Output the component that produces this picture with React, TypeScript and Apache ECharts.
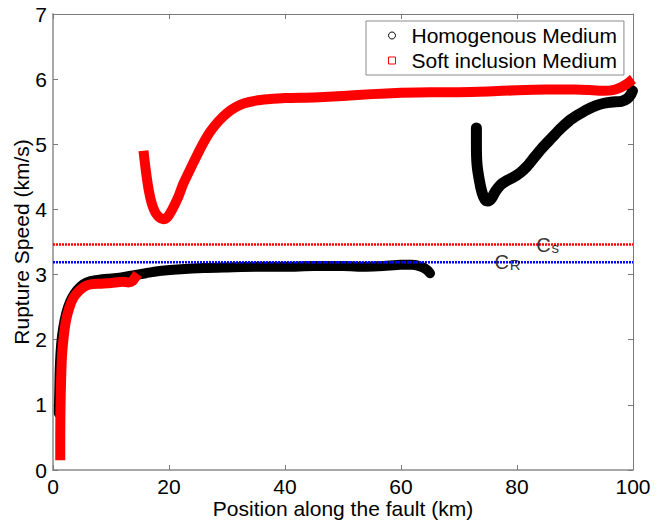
import React, { useEffect, useRef } from "react";
import * as echarts from "echarts";

// ---- data ----
const xTicks = [0, 20, 40, 60, 80, 100];
const yTicks = [0, 1, 2, 3, 4, 5, 6, 7];

const homogeneousSegA: [number, number][] = [
  [1.0, 0.87], [1.08, 1.2], [1.15, 1.5], [1.3, 1.8], [1.55, 2.05], [2.0, 2.3], [2.6, 2.5],
  [3.25, 2.64], [4.15, 2.76], [5.2, 2.85], [6.5, 2.9], [8, 2.92], [10, 2.94], [12, 2.96],
  [14, 2.99], [16, 3.02], [18, 3.05], [22, 3.08], [26, 3.1], [30, 3.11], [35, 3.12], [40, 3.12],
  [45, 3.13], [50, 3.13], [54, 3.12], [57, 3.13], [60, 3.15], [62, 3.15], [63.5, 3.12],
  [64.5, 3.07], [65, 3.02],
];
const homogeneousSegB: [number, number][] = [
  [73.0, 5.25], [73.0, 5.0], [73.1, 4.7], [73.5, 4.45], [74.0, 4.25], [74.5, 4.15],
  [75, 4.13], [75.6, 4.17], [76.3, 4.28], [77.2, 4.38], [78.2, 4.44], [79.3, 4.49],
  [80.5, 4.56], [81.7, 4.66], [83, 4.8], [84.5, 4.96], [86, 5.1], [87.5, 5.24],
  [89, 5.36], [90.5, 5.45], [92, 5.53], [93.5, 5.59], [95, 5.63], [96.5, 5.65],
  [98, 5.66], [99, 5.7], [99.6, 5.76], [99.9, 5.82],
];
const softSegA: [number, number][] = [
  [1.25, 0.15], [1.25, 0.5], [1.3, 1.0], [1.4, 1.4], [1.55, 1.75], [1.85, 2.05], [2.25, 2.3],
  [2.85, 2.5], [3.5, 2.64], [4.5, 2.75], [5.5, 2.82], [6.5, 2.85], [8, 2.86], [10, 2.87],
  [12, 2.89], [13, 2.88], [13.7, 2.9], [14.2, 2.96], [14.6, 3.01],
];
const softSegB: [number, number][] = [
  [15.6, 4.9], [16, 4.6], [16.5, 4.3], [17, 4.1], [17.6, 3.96], [18.3, 3.88], [19, 3.85],
  [19.7, 3.88], [20.5, 3.99], [21.5, 4.17], [22.5, 4.4], [24, 4.68], [25.5, 4.95],
  [27, 5.18], [28.5, 5.35], [30, 5.48], [31.5, 5.57], [33, 5.63], [35, 5.67], [37, 5.69],
  [40, 5.71], [45, 5.72], [50, 5.74], [55, 5.77], [60, 5.79], [65, 5.8], [70, 5.8],
  [75, 5.81], [80, 5.83], [85, 5.84], [90, 5.84], [93, 5.83], [95, 5.82], [96.5, 5.83],
  [97.8, 5.87], [99, 5.93], [99.7, 5.98], [100, 6.0],
];
const shearSpeed = 3.46;
const rayleighSpeed = 3.19;
const csLabelX = 83.3;
const crLabelX = 76.1;

const FONT = "'Liberation Sans', Arial, Helvetica, sans-serif";

export default function App() {
  const ref = useRef<HTMLDivElement>(null);
  useEffect(() => {
    document.body.style.margin = "0";
    if (!ref.current) return;
    const chart = echarts.init(ref.current, null, { renderer: "svg" });
    const axisGray = "#7a7a7a";
    const lineSeries = (name: string, data: [number, number][], color: string, width: number, cap: string) => ({
      type: "line",
      name,
      data,
      showSymbol: false,
      symbol: "none",
      smooth: 0.25,
      silent: true,
      lineStyle: { color, width, cap, join: "round" },
      itemStyle: { color },
      emphasis: { disabled: true },
    });
    chart.setOption({
      animation: false,
      backgroundColor: "#ffffff",
      textStyle: { fontFamily: FONT },
      grid: { left: 53, right: 27, top: 14, bottom: 51, containLabel: false, outerBoundsMode: "none" },
      legend: {
        left: 366,
        top: 21,
        orient: "vertical",
        backgroundColor: "#ffffff",
        borderColor: "#8a8a8a",
        borderWidth: 1,
        borderRadius: 0,
        padding: [4, 7, 4, 22],
        itemGap: 4,
        itemWidth: 7,
        itemHeight: 7,
        textStyle: { fontFamily: FONT, fontSize: 21, color: "#000", lineHeight: 21, padding: [0, 0, 0, 11] },
        selectedMode: false,
        data: [
          { name: "Homogenous Medium", icon: "circle", itemStyle: { color: "#ffffff", borderColor: "#000", borderWidth: 1 } },
          { name: "Soft inclusion Medium", icon: "rect", itemStyle: { color: "#ffffff", borderColor: "#ff0000", borderWidth: 1 } },
        ],
      },
      xAxis: [
        {
          type: "value",
          min: xTicks[0],
          max: xTicks[xTicks.length - 1],
          interval: 20,
          name: "Position along the fault (km)",
          nameLocation: "middle",
          nameGap: 28,
          nameMoveOverlap: false,
          nameTextStyle: { fontFamily: FONT, fontSize: 21, color: "#000" },
          axisLine: { show: true, onZero: false, lineStyle: { color: "#8c8c8c", width: 1.5 } },
          axisTick: { show: true, inside: true, length: 5, lineStyle: { color: axisGray } },
          axisLabel: { fontFamily: FONT, fontSize: 21, color: "#000", margin: 6 },
          splitLine: { show: false },
        },
        {
          type: "value",
          position: "top",
          min: xTicks[0],
          max: xTicks[xTicks.length - 1],
          interval: 20,
          axisLine: { show: true, onZero: false, lineStyle: { color: axisGray, width: 1 } },
          axisTick: { show: true, inside: true, length: 5, lineStyle: { color: axisGray } },
          axisLabel: { show: false },
          splitLine: { show: false },
        },
      ],
      yAxis: [
        {
          type: "value",
          min: yTicks[0],
          max: yTicks[yTicks.length - 1],
          interval: 1,
          name: "Rupture Speed (km/s)",
          nameLocation: "middle",
          nameGap: 21,
          nameMoveOverlap: false,
          nameTextStyle: { fontFamily: FONT, fontSize: 21, color: "#000" },
          axisLine: { show: true, onZero: false, lineStyle: { color: "#a8a8a8", width: 2 } },
          axisTick: { show: true, inside: true, length: 5, lineStyle: { color: axisGray } },
          axisLabel: { fontFamily: FONT, fontSize: 21, color: "#000", margin: 6 },
          splitLine: { show: false },
        },
        {
          type: "value",
          position: "right",
          min: yTicks[0],
          max: yTicks[yTicks.length - 1],
          interval: 1,
          axisLine: { show: true, onZero: false, lineStyle: { color: axisGray, width: 1 } },
          axisTick: { show: true, inside: true, length: 5, lineStyle: { color: axisGray } },
          axisLabel: { show: false },
          splitLine: { show: false },
        },
      ],
      series: [
        lineSeries("Homogenous Medium", homogeneousSegA, "#000000", 10, "round"),
        lineSeries("Homogenous Medium", homogeneousSegB, "#000000", 11, "round"),
        lineSeries("Soft inclusion Medium", softSegA, "#ff0000", 10, "butt"),
        lineSeries("Soft inclusion Medium", softSegB, "#ff0000", 10, "butt"),
        {
          type: "line",
          name: "Cs line",
          data: [[xTicks[0], shearSpeed], [xTicks[xTicks.length - 1], shearSpeed]],
          symbol: "none",
          silent: true,
          lineStyle: { color: "#ff0000", width: 2.5, type: [2, 1] },
        },
        {
          type: "line",
          name: "CR line",
          data: [[xTicks[0], rayleighSpeed], [xTicks[xTicks.length - 1], rayleighSpeed]],
          symbol: "none",
          silent: true,
          lineStyle: { color: "#0000ff", width: 2.5, type: [2, 1] },
        },
        {
          type: "scatter",
          name: "labels",
          symbolSize: 0,
          silent: true,
          z: 10,
          data: [
            { value: [csLabelX, shearSpeed], sub: "s" },
            { value: [crLabelX, rayleighSpeed], sub: "R" },
          ],
          label: {
            show: true,
            position: "right",
            distance: 0,
            formatter: (p: any) => `{c|C}{s|${p.data.sub}}`,
            rich: {
              c: { fontFamily: FONT, fontSize: 20, color: "#000", lineHeight: 20, verticalAlign: "top" },
              s: { fontFamily: FONT, fontSize: 15, color: "#000", lineHeight: 16, verticalAlign: "bottom", padding: [12, 0, 0, 1] },
            },
          },
        },
      ],
    });
    return () => chart.dispose();
  }, []);
  return <div ref={ref} style={{ width: 660, height: 521 }} />;
}
